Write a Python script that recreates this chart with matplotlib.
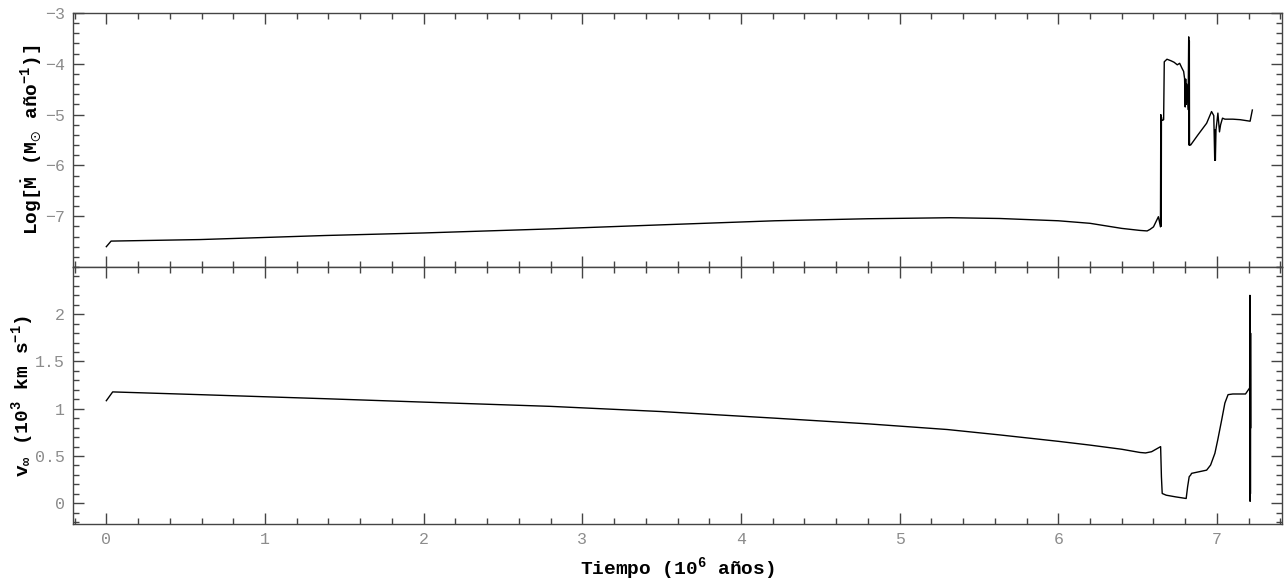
import matplotlib
matplotlib.use('Agg')
import matplotlib.pyplot as plt
from matplotlib.ticker import MultipleLocator, FixedLocator, FuncFormatter

# tiempo en 10^6 años, log de la tasa de perdida de masa
t_mdot = [0.000, 0.030, 0.590, 1.380, 2.000, 2.800, 3.500, 4.215, 4.800, 5.320,
          5.630, 6.000, 6.200, 6.300, 6.400, 6.515, 6.560, 6.578, 6.600, 6.631, 6.644,
          6.646, 6.647, 6.648, 6.649, 6.650, 6.652, 6.659, 6.664, 6.668,
          6.685, 6.710, 6.730, 6.750, 6.765, 6.780, 6.790, 6.796, 6.800,
          6.803, 6.806, 6.810, 6.818, 6.822, 6.824, 6.826, 6.827, 6.828,
          6.834, 6.880, 6.935, 6.966, 6.980, 6.986, 6.988, 6.990, 6.994,
          7.000, 7.006, 7.016, 7.023, 7.035, 7.050, 7.100, 7.146, 7.209,
          7.223]
log_mdot = [-7.60, -7.49, -7.46, -7.38, -7.33, -7.25, -7.17, -7.09, -7.05, -7.03,
            -7.045, -7.09, -7.14, -7.19, -7.24, -7.28, -7.29, -7.26, -7.21, -7.01, -7.21,
            -5.00, -7.20, -5.02, -7.15, -5.05, -5.11, -5.11, -5.10, -3.96,
            -3.91, -3.94, -3.97, -4.02, -3.99, -4.09, -4.15, -4.29, -4.85,
            -4.30, -4.80, -4.40, -4.90, -3.47, -5.60, -3.55, -5.55, -5.60,
            -5.60, -5.40, -5.17, -4.94, -5.02, -5.90, -5.30, -5.90, -5.30,
            -5.14, -4.97, -5.34, -5.20, -5.07, -5.09, -5.09, -5.10, -5.13,
            -4.91]

# velocidad terminal en 10^3 km/s
t_vinf = [0.000, 0.040, 0.590, 1.380, 2.000, 2.800, 3.500, 4.215, 4.800, 5.300,
          5.630, 6.000, 6.200, 6.400, 6.515, 6.550, 6.588, 6.645, 6.650, 6.655,
          6.680, 6.740, 6.806, 6.815, 6.825, 6.835, 6.840, 6.935, 6.960,
          6.987, 7.005, 7.030, 7.050, 7.070, 7.100, 7.180, 7.206, 7.208,
          7.209, 7.210, 7.211, 7.212, 7.213]
vinf = [1.085, 1.178, 1.149, 1.106, 1.070, 1.025, 0.970, 0.900, 0.840, 0.780,
        0.723, 0.655, 0.615, 0.571, 0.537, 0.532, 0.545, 0.599, 0.280, 0.103,
        0.085, 0.067, 0.050, 0.173, 0.280, 0.300, 0.316, 0.350, 0.404,
        0.528, 0.670, 0.883, 1.060, 1.149, 1.156, 1.156, 1.220, 2.200,
        0.020, 2.100, 0.100, 1.800, 0.800]

x_ticks = [0, 1, 2, 3, 4, 5, 6, 7]
top_yticks = [-7, -6, -5, -4, -3]
bot_yticks = [0, 0.5, 1, 1.5, 2]

plt.rcParams['font.family'] = ['Liberation Mono', 'DejaVu Sans']
plt.rcParams['mathtext.default'] = 'regular'

fig = plt.figure(figsize=(12.87, 5.82), dpi=100)
left, right = 73 / 1287, 1282 / 1287
top, mid, bot = 1 - 13 / 582, 1 - 267 / 582, 1 - 524 / 582
ax1 = fig.add_axes([left, mid, right - left, top - mid])
ax2 = fig.add_axes([left, bot, right - left, mid - bot], sharex=ax1)

ax1.plot(t_mdot, log_mdot, color='black', lw=1.0)
ax2.plot(t_vinf, vinf, color='black', lw=1.0)

ax1.set_xlim(-0.21, 7.41)
ax1.set_ylim(-8, -3)
ax2.set_ylim(-0.22, 2.5)

fmt = FuncFormatter(lambda v, p: ('%g' % v).replace('-', '\u2212'))
ax1.yaxis.set_major_locator(FixedLocator(top_yticks))
ax1.yaxis.set_minor_locator(MultipleLocator(0.2))
ax1.yaxis.set_major_formatter(fmt)
ax2.yaxis.set_major_locator(FixedLocator(bot_yticks))
ax2.yaxis.set_minor_locator(MultipleLocator(0.1))
ax2.yaxis.set_major_formatter(fmt)
ax2.xaxis.set_major_locator(FixedLocator(x_ticks))
ax2.xaxis.set_minor_locator(MultipleLocator(0.2))
ax2.xaxis.set_major_formatter(fmt)

for ax in (ax1, ax2):
    ax.tick_params(which='both', direction='in', top=True, right=True,
                   color='#444444', width=1.0, labelsize=12,
                   labelcolor='#8c8c8c', pad=6)
    ax.tick_params(which='major', length=8)
    ax.tick_params(which='minor', length=4.5)
    for s in ax.spines.values():
        s.set_color('#444444')
        s.set_linewidth(1.0)
ax1.tick_params(labelbottom=False)

ax1.set_ylabel(r'Log[$\dot{M}$ (M$_{\odot}$ año$^{-1}$)]', fontsize=14,
               fontweight='bold')
ax2.set_ylabel(r'v$_{\infty}$ (10$^{3}$ km s$^{-1}$)', fontsize=14,
               fontweight='bold')
ax1.yaxis.set_label_coords(-0.024, 0.5)
ax2.yaxis.set_label_coords(-0.031, 0.5)
ax2.set_xlabel(r'Tiempo (10$^{6}$ años)', fontsize=14, fontweight='bold',
               labelpad=6)

fig.savefig('out.png', dpi=100)
